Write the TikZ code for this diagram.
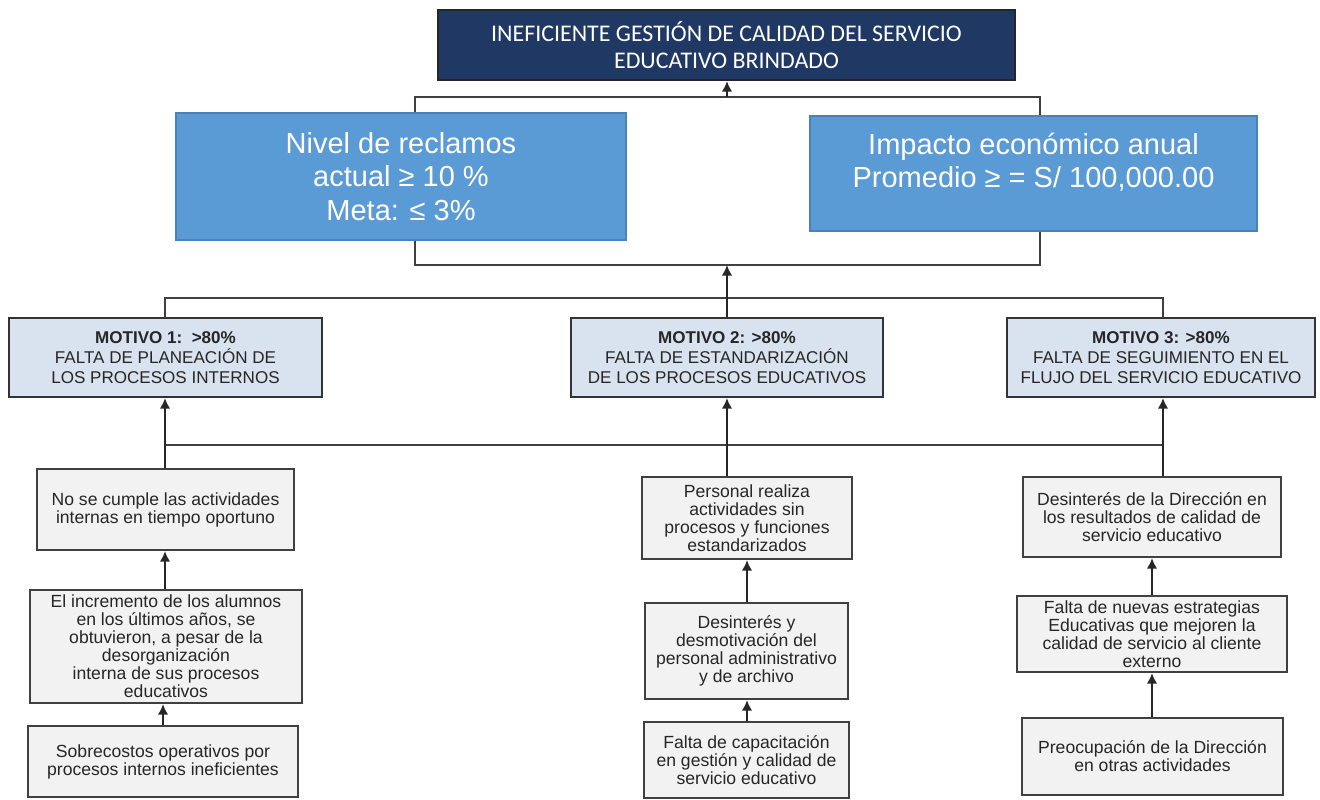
\documentclass[tikz,border=0pt]{standalone}
\usepackage{fontspec}
\setmainfont{Liberation Sans}
\newfontfamily\calibri{Carlito}
\usepackage{tikz}
\usetikzlibrary{calc}
\usetikzlibrary{arrows.meta}
\usetikzlibrary{positioning}
\definecolor{navy}{HTML}{203864}
\definecolor{midblue}{HTML}{5B9BD5}
\definecolor{midblueline}{HTML}{4A82B8}
\definecolor{motivefill}{HTML}{D9E2EF}
\definecolor{causefill}{HTML}{F2F2F2}
\tikzset{>={Latex[length=3pt,width=3pt]}}
\tikzset{
  topbox/.style = {draw=black!85, fill=navy, text=white, align=center, inner sep=0,
    line width=0.6pt, font=\calibri\fontsize{6.8}{7.5}\selectfont},
  bluebox/.style = {draw=midblueline, fill=midblue, text=white, align=center, inner sep=0,
    line width=0.6pt, font=\fontsize{8.25}{9.6}\selectfont},
  bluetext/.style = {text=white, align=center, inner sep=0, font=\fontsize{8.25}{9.4}\selectfont},
  motive/.style = {draw=black!80, fill=motivefill, text=black!85, align=center, inner sep=0,
    line width=0.6pt, font=\fontsize{4.85}{5.7}\selectfont},
  cause/.style = {draw=black!75, fill=causefill, text=black!85, align=center, inner sep=0,
    line width=0.6pt, font=\fontsize{5}{5.1}\selectfont},
  link/.style = {-, draw=black!75, line width=0.6pt},
  arr/.style = {->, draw=black!85, line width=0.6pt}
}

\begin{document}
\begin{tikzpicture}[x=0.01cm, y=-0.01cm]
\useasboundingbox (0,0) rectangle (1320,799);
%% problem and indicators
\node [topbox, minimum width=5.77cm, minimum height=0.70cm] (T) at (726.5, 45) {INEFICIENTE GESTIÓN DE CALIDAD DEL SERVICIO\\EDUCATIVO BRINDADO};
\node [bluebox, minimum width=4.50cm, minimum height=1.27cm] (B1) at (401, 176.5) {Nivel de reclamos\\actual ≥ 10 \%\\Meta: ≤ 3\%};
\node [bluebox, minimum width=4.47cm, minimum height=1.15cm] (B2) at (1033.5, 173.5) {};
\node [bluetext] (B2t) at (1033.5, 162) {Impacto económico anual\\Promedio ≥ = S/ 100,000.00};
%% motives
\node [motive, minimum width=3.13cm, minimum height=0.79cm] (M1) at (165.5, 357.5) {\textbf{MOTIVO 1:\ \ >80\%}\\FALTA DE PLANEACIÓN DE\\LOS PROCESOS INTERNOS};
\node [motive, minimum width=3.12cm, minimum height=0.79cm] (M2) at (727, 357.5) {\textbf{MOTIVO 2: >80\%}\\FALTA DE ESTANDARIZACIÓN\\DE LOS PROCESOS EDUCATIVOS};
\node [motive, minimum width=3.08cm, minimum height=0.79cm] (M3) at (1161, 357.5) {\textbf{MOTIVO 3: >80\%}\\FALTA DE SEGUIMIENTO EN EL\\FLUJO DEL SERVICIO EDUCATIVO};
%% causes
\node [cause, minimum width=2.57cm, minimum height=0.81cm] (C11) at (165.5, 509.5) {No se cumple las actividades\\internas en tiempo oportuno};
\node [cause, minimum width=2.72cm, minimum height=1.13cm] (C12) at (166, 646.5) {El incremento de los alumnos\\en los últimos años, se\\obtuvieron, a pesar de la\\desorganización\\interna de sus procesos\\educativos};
\node [cause, minimum width=2.70cm, minimum height=0.71cm] (C13) at (163, 761.5) {Sobrecostos operativos por\\procesos internos ineficientes};
\node [cause, minimum width=2.10cm, minimum height=0.82cm] (C21) at (747, 518) {Personal realiza\\actividades sin\\procesos y funciones\\estandarizados};
\node [cause, minimum width=2.03cm, minimum height=0.96cm] (C22) at (746.5, 651) {Desinterés y\\desmotivación del\\personal administrativo\\y de archivo};
\node [cause, minimum width=2.05cm, minimum height=0.76cm] (C23) at (746.5, 760) {Falta de capacitación\\en gestión y calidad de\\servicio educativo};
\node [cause, minimum width=2.58cm, minimum height=0.80cm] (C31) at (1152, 517) {Desinterés de la Dirección en\\los resultados de calidad de\\servicio educativo};
\node [cause, minimum width=2.70cm, minimum height=0.76cm] (C32) at (1152, 634) {Falta de nuevas estrategias\\Educativas que mejoren la\\calidad de servicio al cliente\\externo};
\node [cause, minimum width=2.61cm, minimum height=0.77cm] (C33) at (1152.5, 756.5) {Preocupación de la Dirección\\en otras actividades};
%% junctions
\coordinate (jT) at (727, 97);
\coordinate (jTL) at (415, 97);
\coordinate (jTR) at (1040, 97);
\coordinate (jB) at (727, 265);
\coordinate (jBL) at (415, 265);
\coordinate (jBR) at (1040, 265);
\coordinate (jM1) at (165, 298);
\coordinate (jM3) at (1163, 298);
\coordinate (k1) at (165, 445);
\coordinate (k3) at (1163, 445);
%% connectors
\draw [link] (B1.north -| jTL) -- (jTL) -- (jTR) -- (B2.north -| jTR);
\draw [arr] (jT) -- (T.south -| jT);
\draw [link] (B1.south -| jBL) -- (jBL) -- (jBR) -- (B2.south -| jBR);
\draw [link] (M1.north -| jM1) -- (jM1) -- (jM3) -- (M3.north -| jM3);
\draw [arr] (M2.north -| jB) -- (jB);
\draw [link] (k1) -- (k3);
\draw [arr] (C11.north -| k1) -- (M1.south -| k1);
\draw [arr] (C21.north -| M2) -- (M2.south);
\draw [arr] (C31.north -| k3) -- (M3.south -| k3);
\draw [arr] (C12.north -| k1) -- (C11.south -| k1);
\draw [arr] (C13.north) -- (C12.south -| C13);
\draw [arr] (C22.north -| C21) -- (C21.south);
\draw [arr] (C23.north -| C21) -- (C22.south -| C21);
\draw [arr] (C32.north) -- (C31.south);
\draw [arr] (C33.north -| C32) -- (C32.south);
\end{tikzpicture}
\end{document}
